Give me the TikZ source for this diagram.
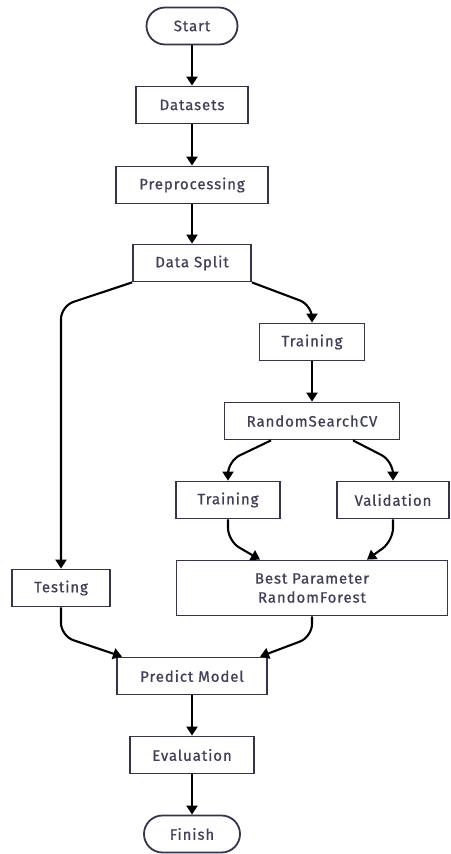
\documentclass[tikz,border=0pt]{standalone}
\usepackage{fontspec}
\setmainfont{Fira Sans}[LetterSpace=6,FakeBold=0.8]
\usetikzlibrary{arrows.meta,calc}
\definecolor{boxline}{HTML}{34344A}
\definecolor{boxtext}{HTML}{40405A}

\begin{document}
\begin{tikzpicture}[>={Triangle[length=9pt,width=11pt]}, x=1pt, y=-1pt,
        stage/.style={draw=boxline, line width=1.8pt, text=boxtext, font=\fontsize{15}{19}\selectfont, minimum height=37pt, inner sep=0pt, align=center},
        term/.style={stage, rounded corners=18.5pt},
        flow/.style={->, line width=2.1pt, rounded corners=13pt}]
    \useasboundingbox (0,0) rectangle (450,854);
    \node[term, minimum width=91pt] (start) at (192,26) {Start};
    \node[stage, minimum width=112pt] (data) at (192,105) {Datasets};
    \node[stage, minimum width=152pt] (prep) at (192,185) {Preprocessing};
    \node[stage, minimum width=118pt] (split) at (192,263) {Data Split};
    \node[stage, minimum width=105pt] (train) at (312,342) {Training};
    \node[stage, minimum width=175pt] (rscv) at (312,421) {RandomSearchCV};
    \node[stage, minimum width=104pt] (cvtrain) at (228,500) {Training};
    \node[stage, minimum width=112pt] (cvval) at (393,500) {Validation};
    \node[stage, minimum width=98pt] (test) at (61,588) {Testing};
    \node[stage, minimum width=271pt, minimum height=55pt] (best) at (312,588) {Best Parameter\\RandomForest};
    \node[stage, minimum width=150pt] (pred) at (192,676) {Predict Model};
    \node[stage, minimum width=124pt] (eval) at (192,755) {Evaluation};
    \node[term, minimum width=96pt] (finish) at (192,834) {Finish};
    % straight steps
    \draw[flow] (start) -- (data);
    \draw[flow] (data) -- (prep);
    \draw[flow] (prep) -- (split);
    \draw[flow] (train) -- (rscv);
    \draw[flow] (pred) -- (eval);
    \draw[flow] (eval) -- (finish);
    % branches
    \draw[flow] (split.south west) -- (test.north |- 0,306) -- (test.north);
    \draw[flow] (split.south east) -- (train.north |- 0,305) -- (train.north);
    \draw[flow] ($(rscv.south)+(-41,0)$) -- (cvtrain.north |- 0,461) -- (cvtrain.north);
    \draw[flow] ($(rscv.south)+(41,0)$) -- (cvval.north |- 0,461) -- (cvval.north);
    \draw[flow] (cvtrain.south) -- (cvtrain.south |- 0,541) -- ($(best.north)+(-52,0)$);
    \draw[flow] (cvval.south) -- (cvval.south |- 0,541) -- ($(best.north)+(55,0)$);
    \draw[flow] (test.south) -- (test.south |- 0,636) -- ($(pred.north)+(-70,0)$);
    \draw[flow] (best.south) -- (best.south |- 0,637) -- ($(pred.north)+(68,0)$);
\end{tikzpicture}
\end{document}
